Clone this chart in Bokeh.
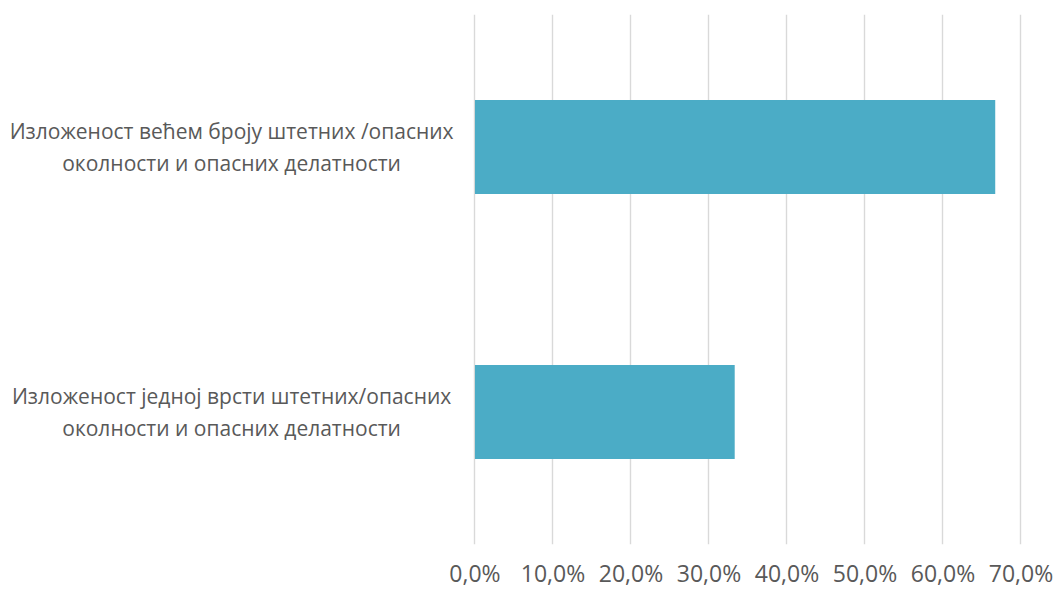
from bokeh.plotting import figure
from bokeh.models import ColumnDataSource, FactorRange, FixedTicker, CustomJSTickFormatter
from bokeh.core.properties import value
from bokeh.embed import file_html
from bokeh.resources import INLINE

categories = [
    "Изложеност једној врсти штетних/опасних\nоколности и опасних делатности",
    "Изложеност већем броју штетних /опасних\nоколности и опасних делатности",
]
values = [33.3, 66.7]
tick_values = [0, 10, 20, 30, 40, 50, 60, 70]

LABEL_X = -31.2  # data position of the category label centres (left of the bars)

source = ColumnDataSource(data=dict(cat=categories, val=values,
                                    lx=[LABEL_X] * len(categories)))

p = figure(width=1059, height=591, output_backend="svg", toolbar_location=None,
           y_range=FactorRange(factors=categories), x_range=(-60.83, 74.94))
p.min_border_left = 0
p.min_border_right = 0
p.min_border_top = 14
p.min_border_bottom = 0
p.outline_line_color = None
p.background_fill_color = "white"
p.border_fill_color = "white"

p.hbar(y="cat", right="val", left=0, height=0.355, source=source,
       fill_color="#4BACC6", line_color=None)

p.text(x="lx", y="cat", text="cat", source=source,
       text_align="center", text_baseline="middle",
       text_font=value("Open Sans"), text_font_size="21px",
       text_color="#595959", text_line_height=1.12)

p.yaxis.visible = False
p.ygrid.visible = False

p.xaxis.ticker = FixedTicker(ticks=tick_values)
p.xaxis.formatter = CustomJSTickFormatter(code="return tick.toFixed(1).replace('.', ',') + '%';")
p.xaxis.axis_line_color = None
p.xaxis.major_tick_line_color = None
p.xaxis.minor_tick_line_color = None
p.xaxis.major_tick_out = 0
p.xaxis.major_tick_in = 0
p.xaxis.major_label_standoff = 12
p.xaxis.major_label_text_font = "Open Sans"
p.xaxis.major_label_text_font_size = "23px"
p.xaxis.major_label_text_color = "#595959"

p.xgrid.grid_line_color = "#D9D9D9"
p.xgrid.grid_line_width = 1.4

open("out.html", "w").write(file_html(p, INLINE))
